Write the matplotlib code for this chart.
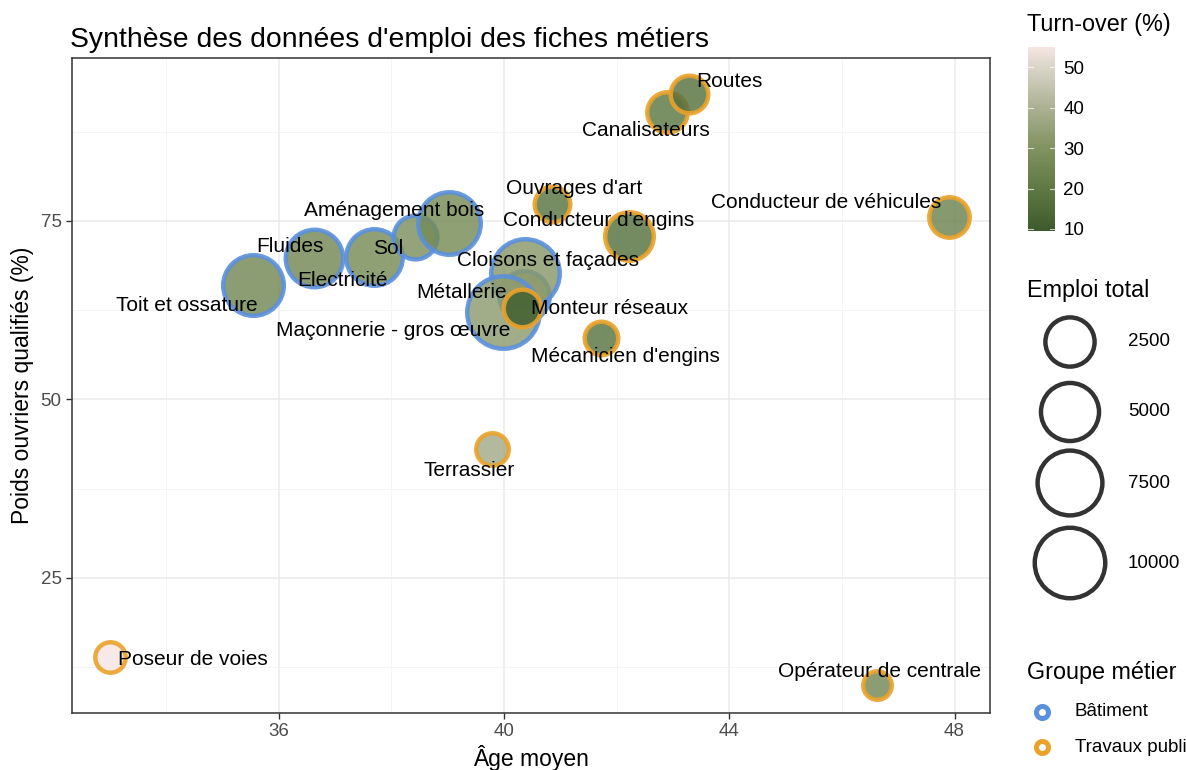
import numpy as np
import matplotlib
matplotlib.use("Agg")
import matplotlib.pyplot as plt
from matplotlib.colors import LinearSegmentedColormap, Normalize, to_rgba
from matplotlib.colorbar import ColorbarBase

plt.rcParams['font.family'] = ['Liberation Sans', 'DejaVu Sans']

# ---------------- data ----------------
metiers = ["Toit et ossature", "Fluides", "Electricité", "Sol", "Aménagement bois",
           "Métallerie", "Cloisons et façades", "Maçonnerie - gros œuvre",
           "Monteur réseaux", "Ouvrages d'art", "Conducteur d'engins",
           "Mécanicien d'engins", "Canalisateurs", "Routes",
           "Conducteur de véhicules", "Terrassier", "Poseur de voies",
           "Opérateur de centrale"]
groupe = ["Bâtiment"] * 8 + ["Travaux publi"] * 10
age_moyen = [35.55, 36.62, 37.70, 38.42, 39.02, 40.35, 40.38, 39.98,
             40.32, 40.85, 42.22, 41.73, 42.90, 43.28, 47.90, 39.78, 33.00, 46.62]
poids_ouvriers = [66.0, 69.8, 70.0, 72.8, 74.7, 64.5, 67.7, 62.2,
                  62.8, 77.3, 72.9, 58.6, 90.2, 92.7, 75.6, 43.0, 13.9, 10.0]
emploi_total = [5900, 4800, 4500, 1400, 6600, 2800, 9100, 11000,
                560, 380, 2350, 240, 900, 560, 900, 190, 120, 100]
turnover = [26, 26, 27, 29, 27, 34, 32, 33,
            11, 18, 17, 18, 19, 17, 24, 38, 55, 26]
# label offsets (pixels) relative to each point
label_dx = [-67, -24, -32, -27, -55, -62, 23, -110, 88, 22, -30, 24, -21, 41, -123, -22, 83, 3]
label_dy = [-20, 11, -24, -12, 12, 3, 13, -18, -1, 16, 15, -18, -18, 13, 14, -21, -2, 14]

size_breaks = [2500, 5000, 7500, 10000]
color_ticks = [10, 20, 30, 40, 50]
tov_lim = (9.5, 55)

group_colors = {"Bâtiment": "#5A90DC", "Travaux publi": "#EAA22A"}
cmap = LinearSegmentedColormap.from_list(
    "tov", [(0.0, "#3C5A2A"), (0.22, "#5E7843"), (0.45, "#80925F"),
            (0.67, "#ABB092"), (0.89, "#D9D5C8"), (1.0, "#F6E5E2")])
norm = Normalize(*tov_lim)

# size mapping (area palette, like ggplot)
vmin, vmax = min(emploi_total), max(emploi_total)
dmin_px, dmax_px = 33, 77
LW = 3.2  # ring width in points


def marker_s(v):
    v = np.asarray(v, dtype=float)
    d_px = dmin_px + (dmax_px - dmin_px) * np.sqrt(np.clip((v - vmin) / (vmax - vmin), 0, 1))
    d_pt = d_px * 0.72 - LW
    return d_pt ** 2


W, H = 1186, 770
fig = plt.figure(figsize=(W / 100, H / 100), dpi=100)
L, R, T, B = 72, 990, 58, 713
ax = fig.add_axes([L / W, 1 - B / H, (R - L) / W, (B - T) / H])
ax.set_xlim(32.33, 48.63)
ax.set_ylim(6.1, 97.8)

ax.set_xticks([36, 40, 44, 48])
ax.set_xticks([34, 38, 42, 46], minor=True)
ax.set_yticks([25, 50, 75])
ax.set_yticks([12.5, 37.5, 62.5, 87.5], minor=True)
ax.grid(which="major", color="#EBEBEB", linewidth=1.1)
ax.grid(which="minor", color="#F2F2F2", linewidth=0.6)
ax.set_axisbelow(True)
ax.tick_params(which="major", length=4, width=1, color="#333333",
               labelsize=13.5, labelcolor="#4D4D4D")
ax.tick_params(which="minor", length=0)
for sp in ax.spines.values():
    sp.set_color("#333333")
    sp.set_linewidth(1.1)

ax.set_xlabel("Âge moyen", fontsize=16.5, color="black", labelpad=3)
ax.set_ylabel("Poids ouvriers qualifiés (%)", fontsize=16.5, color="black", labelpad=5)
fig.text(L / W - 0.002, 1 - 40 / H, "Synthèse des données d'emploi des fiches métiers",
         fontsize=20.4, ha="left", va="center")

sizes = marker_s(emploi_total)
for i in range(len(metiers)):
    fc = to_rgba(cmap(norm(turnover[i])), 0.82)
    ec = to_rgba(group_colors[groupe[i]], 0.9)
    ax.scatter([age_moyen[i]], [poids_ouvriers[i]], s=sizes[i], facecolor=fc,
               edgecolor=ec, linewidth=LW, zorder=3 + i * 0.01)
for i in range(len(metiers)):
    ax.annotate(metiers[i], (age_moyen[i], poids_ouvriers[i]),
                xytext=(label_dx[i], label_dy[i]), textcoords="offset pixels",
                ha="center", va="center", fontsize=15, color="black", zorder=10)

# ---------------- legends ----------------
fig.text(1027 / W, 1 - 25 / H, "Turn-over (%)", fontsize=16.8, ha="left", va="center")
cax = fig.add_axes([1028 / W, 1 - 231 / H, 27 / W, (231 - 47) / H])
cb = ColorbarBase(cax, cmap=cmap, norm=norm, orientation="vertical")
cb.set_ticks(color_ticks)
cb.outline.set_visible(False)
cax.tick_params(length=0, labelsize=13.5, labelcolor="black", pad=6)
for t in color_ticks:
    cax.plot([0, 0.2], [t, t], color="white", lw=0.8, alpha=0.7, transform=cax.get_yaxis_transform())
    cax.plot([0.8, 1.0], [t, t], color="white", lw=0.8, alpha=0.7, transform=cax.get_yaxis_transform())

lax = fig.add_axes([0, 0, 1, 1], facecolor="none")
lax.set_xlim(0, W)
lax.set_ylim(H, 0)
lax.axis("off")

lax.text(1027, 290, "Emploi total", fontsize=16.8, ha="left", va="center")
size_y = [342, 412, 483, 563]
lax.scatter([1070] * 4, size_y, s=marker_s(size_breaks), facecolor="none",
            edgecolor="#333333", linewidth=LW)
for yy, b in zip(size_y, size_breaks):
    lax.text(1128, yy, str(b), fontsize=13.5, ha="left", va="center")

lax.text(1027, 672, "Groupe métier", fontsize=16.8, ha="left", va="center")
for yy, g in zip([712, 747], ["Bâtiment", "Travaux publi"]):
    lax.scatter([1042], [yy], s=75, facecolor="white",
                edgecolor=group_colors[g], linewidth=3.6)
    lax.text(1075, yy, g, fontsize=13.5, ha="left", va="center")

fig.savefig("out.png", dpi=100)
